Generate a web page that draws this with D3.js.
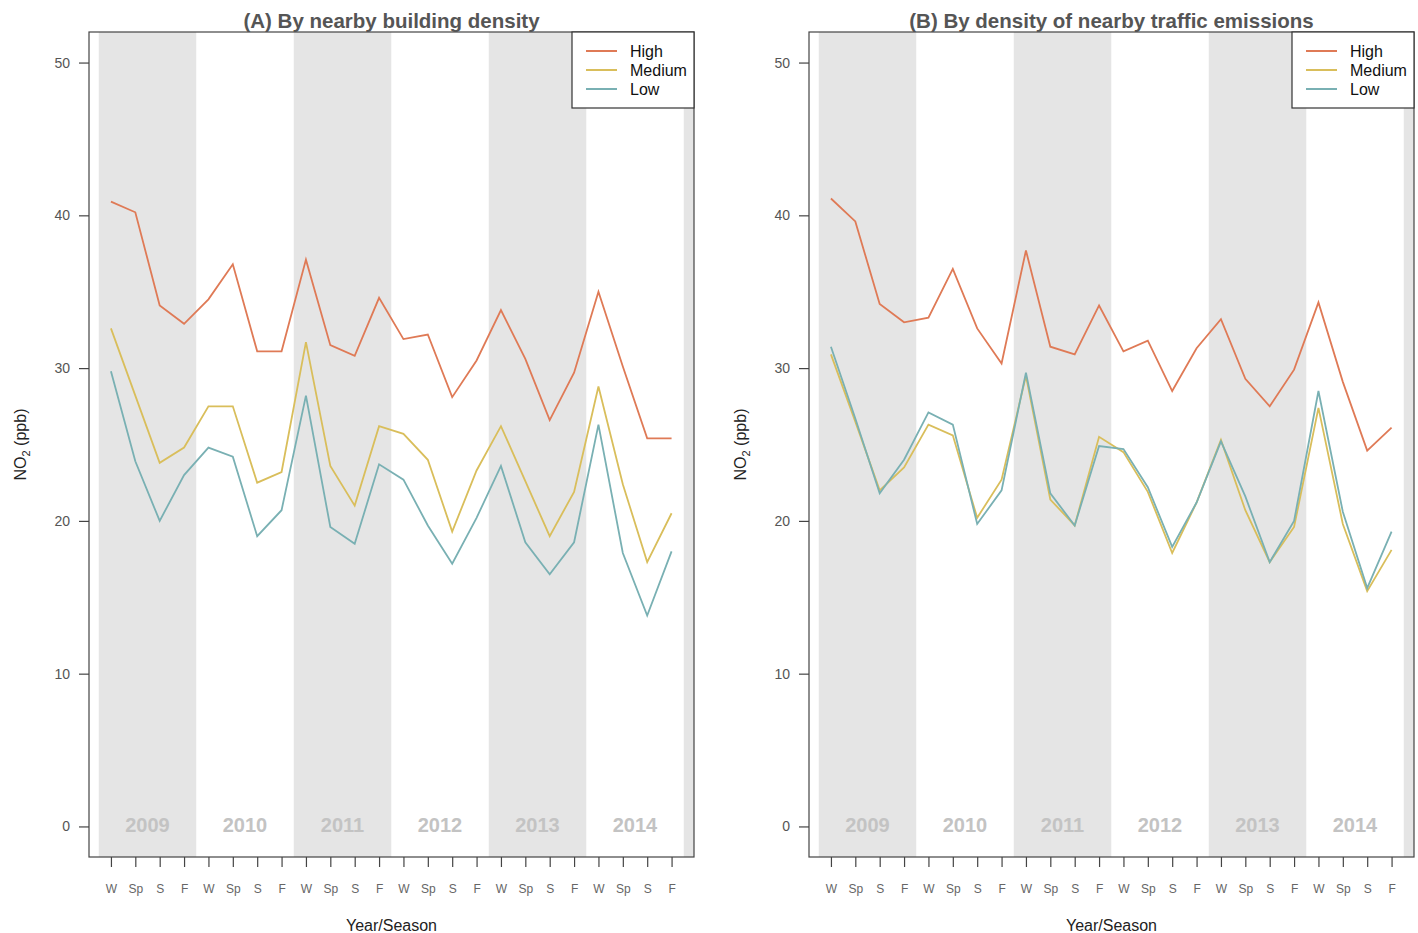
<!DOCTYPE html>
<html>
<head>
<meta charset="utf-8">
<script src="https://cdn.jsdelivr.net/npm/d3@7"></script>
<style>
  body { margin: 0; background: #fff; }
  svg { display: block; font-family: "Liberation Sans", Arial, sans-serif; }
</style>
</head>
<body>
<svg id="vis" width="1418" height="933"></svg>
<script>
// data
const seasons = ['W', 'Sp', 'S', 'F'];
const years = [2009, 2010, 2011, 2012, 2013, 2014];
const seriesNames = ['High', 'Medium', 'Low'];
const seriesColors = ['#DF7A56', '#D9BE5B', '#79B0B3'];
const yTicks = [0, 10, 20, 30, 40, 50];

const buildingHigh = [40.9, 40.2, 34.1, 32.9, 34.5, 36.8, 31.1, 31.1, 37.1, 31.5, 30.8, 34.6,
  31.9, 32.2, 28.1, 30.5, 33.8, 30.6, 26.6, 29.7, 35.0, 30.1, 25.4, 25.4];
const buildingMedium = [32.6, 28.2, 23.8, 24.8, 27.5, 27.5, 22.5, 23.2, 31.7, 23.6, 21.0, 26.2,
  25.7, 24.0, 19.3, 23.3, 26.2, 22.6, 19.0, 21.9, 28.8, 22.4, 17.3, 20.5];
const buildingLow = [29.8, 23.9, 20.0, 23.0, 24.8, 24.2, 19.0, 20.7, 28.2, 19.6, 18.5, 23.7,
  22.7, 19.7, 17.2, 20.2, 23.6, 18.6, 16.5, 18.6, 26.3, 17.9, 13.8, 18.0];

const trafficHigh = [41.1, 39.6, 34.2, 33.0, 33.3, 36.5, 32.6, 30.3, 37.7, 31.4, 30.9, 34.1,
  31.1, 31.8, 28.5, 31.3, 33.2, 29.3, 27.5, 29.9, 34.3, 29.1, 24.6, 26.1];
const trafficMedium = [30.9, 26.5, 22.0, 23.5, 26.3, 25.6, 20.2, 22.7, 29.5, 21.4, 19.7, 25.5,
  24.5, 21.9, 17.9, 21.2, 25.3, 20.7, 17.3, 19.6, 27.4, 19.8, 15.4, 18.1];
const trafficLow = [31.4, 26.7, 21.8, 24.0, 27.1, 26.3, 19.8, 22.0, 29.7, 21.8, 19.7, 24.9,
  24.7, 22.2, 18.3, 21.2, 25.2, 21.6, 17.3, 20.0, 28.5, 20.6, 15.6, 19.3];

const vis = d3.select('#vis');

const panels = [
  { title: '(A) By nearby building density', left: 89, series: [buildingHigh, buildingMedium, buildingLow] },
  { title: '(B) By density of nearby traffic emissions', left: 809, series: [trafficHigh, trafficMedium, trafficLow] }
];

const frameWidth = 605;
const frameTop = 32;
const frameBottom = 857;

function drawPanel(p, idx) {
  const g = vis.append('g').classed('panel', true);
  const right = p.left + frameWidth;

  const x = d3.scaleLinear().domain([-0.9, 23.92]).range([p.left, right]);
  const y = d3.scaleLinear().domain([-2, 52]).range([frameBottom, frameTop]);

  const clipId = 'clip' + idx;
  g.append('clipPath').attr('id', clipId)
    .append('rect')
      .attr('x', p.left).attr('y', frameTop)
      .attr('width', frameWidth).attr('height', frameBottom - frameTop);

  // alternating year bands (one more year past the end, clipped by the frame)
  const bandYears = years.concat([years[years.length - 1] + 1]);
  g.append('g').attr('clip-path', 'url(#' + clipId + ')')
    .selectAll('rect.band')
    .data(bandYears.filter((d, i) => i % 2 === 0))
    .enter()
      .append('rect')
      .classed('band', true)
      .attr('x', d => x((d - years[0]) * 4 - 0.5))
      .attr('width', d => x(3.5) - x(-0.5))
      .attr('y', frameTop)
      .attr('height', frameBottom - frameTop)
      .attr('fill', '#e5e5e5');

  // year labels
  g.selectAll('text.year')
    .data(years)
    .enter()
      .append('text')
      .classed('year', true)
      .attr('x', (d, i) => x(i * 4 + 1.5))
      .attr('y', y(0) + 6)
      .attr('text-anchor', 'middle')
      .attr('font-size', 20)
      .attr('font-weight', 'bold')
      .attr('fill', '#c3c3c3')
      .text(d => d);

  // lines
  const line = d3.line()
    .x((d, i) => x(i))
    .y(d => y(d));

  g.selectAll('path.series')
    .data(p.series)
    .enter()
      .append('path')
      .classed('series', true)
      .attr('d', line)
      .attr('fill', 'none')
      .attr('stroke', (d, i) => seriesColors[i])
      .attr('stroke-width', 1.8)
      .attr('stroke-linejoin', 'miter');

  // frame
  g.append('rect')
    .attr('x', p.left).attr('y', frameTop)
    .attr('width', frameWidth).attr('height', frameBottom - frameTop)
    .attr('fill', 'none')
    .attr('stroke', '#444')
    .attr('stroke-width', 1.2);

  // y axis
  const yAxis = g.append('g')
    .attr('transform', 'translate(' + p.left + ',0)')
    .call(d3.axisLeft(y).tickValues(yTicks).tickSize(10).tickPadding(9));
  yAxis.select('.domain').remove();
  yAxis.selectAll('line').attr('stroke', '#444').attr('stroke-width', 1.2);
  yAxis.selectAll('text')
    .attr('font-size', 14)
    .attr('fill', '#555')
    .attr('font-family', '"Liberation Sans", Arial, sans-serif');

  // x axis
  const seasonLabels = d3.range(years.length * 4).map(i => seasons[i % 4]);
  const xAxis = g.append('g')
    .attr('transform', 'translate(0,' + frameBottom + ')')
    .call(d3.axisBottom(x).tickValues(d3.range(seasonLabels.length))
      .tickFormat(i => seasonLabels[i]).tickSize(10).tickPadding(17));
  xAxis.select('.domain').remove();
  xAxis.selectAll('line').attr('stroke', '#444').attr('stroke-width', 1.2);
  xAxis.selectAll('text')
    .attr('font-size', 12)
    .attr('fill', '#666')
    .attr('font-family', '"Liberation Sans", Arial, sans-serif');

  // titles
  g.append('text')
    .attr('x', (p.left + right) / 2)
    .attr('y', 28)
    .attr('text-anchor', 'middle')
    .attr('font-size', 20.5)
    .attr('font-weight', 'bold')
    .attr('fill', '#555')
    .text(p.title);

  g.append('text')
    .attr('x', (p.left + right) / 2)
    .attr('y', 931)
    .attr('text-anchor', 'middle')
    .attr('font-size', 16)
    .attr('fill', '#222')
    .text('Year/Season');

  const yTitle = g.append('text')
    .attr('transform', 'translate(' + (p.left - 63) + ',' + ((frameTop + frameBottom) / 2) + ') rotate(-90)')
    .attr('text-anchor', 'middle')
    .attr('font-size', 16)
    .attr('fill', '#222');
  yTitle.append('tspan').text('NO');
  yTitle.append('tspan').attr('font-size', 11).attr('dy', 4).text('2');
  yTitle.append('tspan').attr('dy', -4).text(' (ppb)');

  // legend
  const legend = g.append('g')
    .attr('transform', 'translate(' + (right - 122) + ',' + frameTop + ')');
  legend.append('rect')
    .attr('width', 122).attr('height', 76)
    .attr('fill', '#fff')
    .attr('stroke', '#333')
    .attr('stroke-width', 1.2);
  const rows = legend.selectAll('g.row')
    .data(seriesNames)
    .enter()
      .append('g')
      .classed('row', true)
      .attr('transform', (d, i) => 'translate(0,' + (19 + i * 19) + ')');
  rows.append('line')
    .attr('x1', 14).attr('x2', 45)
    .attr('stroke', (d, i) => seriesColors[i])
    .attr('stroke-width', 2);
  rows.append('text')
    .attr('x', 58)
    .attr('dy', '0.35em')
    .attr('font-size', 16)
    .attr('fill', '#111')
    .text(d => d);
}

panels.forEach(drawPanel);
</script>
</body>
</html>
